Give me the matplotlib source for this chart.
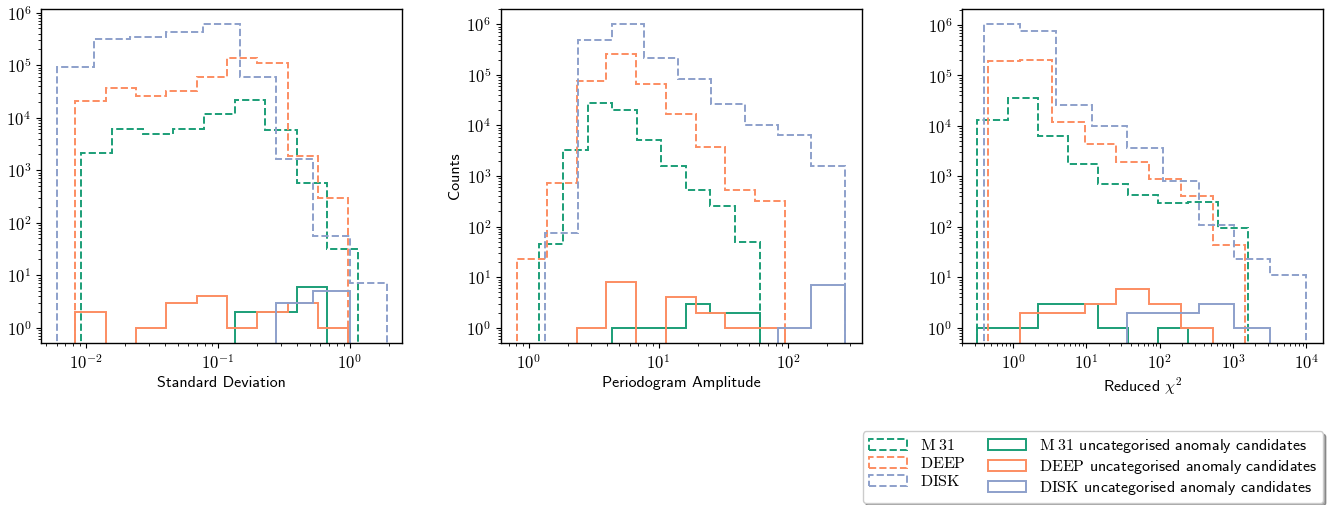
import numpy as np
import matplotlib
matplotlib.use('Agg')
import matplotlib.pyplot as plt
from matplotlib.ticker import FuncFormatter, NullFormatter

plt.rcParams['mathtext.fontset'] = 'cm'
plt.rcParams['font.family'] = 'cmss10'
plt.rcParams['axes.formatter.use_mathtext'] = True

m31_col = '#1b9e77'
deep_col = '#fc8d62'
disk_col = '#8da0cb'

# Standard deviation panel
std_m31_edges = [0.00922, 0.01576, 0.02709, 0.04579, 0.0783, 0.1346, 0.2301, 0.3958, 0.6689, 1.157]
std_m31_counts = [2100, 6000, 4800, 6200, 11500, 22000, 5800, 565, 32]
std_m31_anom = [0, 0, 0, 0, 0, 2, 2, 6, 0]
std_deep_edges = [0.0083, 0.01427, 0.02412, 0.04074, 0.06966, 0.1177, 0.1989, 0.3401, 0.5746, 0.9712]
std_deep_counts = [21000, 36000, 26000, 32000, 59000, 137000, 110000, 1860, 297]
std_deep_anom = [2, 0, 1, 3, 4, 1, 2, 3, 1]
std_disk_edges = [0.00609, 0.01157, 0.02172, 0.04074, 0.07735, 0.1487, 0.279, 0.5298, 1.006, 1.91]
std_disk_counts = [91000, 320000, 340000, 420000, 620000, 60000, 1660, 55, 7]
std_disk_anom = [0, 0, 0, 0, 0, 0, 3, 5, 0]

# Periodogram amplitude panel
amp_m31_edges = [1.193, 1.835, 2.84, 4.393, 6.798, 10.45, 16.27, 25.01, 38.93, 60.57]
amp_m31_counts = [46, 3200, 28000, 20000, 5200, 1600, 540, 255, 49]
amp_m31_anom = [0, 0, 0, 1, 1, 1, 3, 2, 2]
amp_deep_edges = [0.8135, 1.383, 2.351, 3.951, 6.716, 11.42, 19.41, 32.62, 55.44, 94.28]
amp_deep_counts = [23, 720, 75000, 260000, 65000, 16600, 3700, 540, 320]
amp_deep_anom = [0, 0, 1, 8, 0, 4, 2, 1, 1]
amp_disk_edges = [1.327, 2.379, 4.368, 7.784, 14.04, 25.62, 46.47, 83.8, 151.1, 272.5]
amp_disk_counts = [74, 500000, 1000000, 220000, 84000, 26000, 10000, 6500, 1560]
amp_disk_anom = [0, 0, 0, 0, 0, 0, 0, 1, 7]

# Reduced chi^2 panel
chi_m31_edges = [0.3229, 0.8547, 2.147, 5.623, 14.43, 37.0, 94.91, 243.4, 624.4, 1601]
chi_m31_counts = [13000, 35000, 6400, 1750, 690, 430, 300, 315, 94]
chi_m31_anom = [1, 1, 3, 3, 1, 0, 1, 0, 0]
chi_deep_edges = [0.4467, 1.233, 3.403, 9.49, 25.66, 71.54, 195.4, 533.8, 1473]
chi_deep_counts = [190000, 200000, 12000, 4300, 1900, 870, 400, 44]
chi_deep_anom = [0, 2, 2, 3, 6, 3, 1, 0]
chi_disk_edges = [0.398, 1.233, 3.818, 11.82, 35.85, 111.0, 343.9, 1043, 3229, 10000]
chi_disk_counts = [1050000, 740000, 26000, 10000, 3700, 810, 110, 23, 11]
chi_disk_anom = [0, 0, 0, 0, 2, 2, 3, 1, 0]

panels = [
    ('Standard Deviation', (0.00458, 2.48), (0.51, 1.17e6),
     [(std_m31_edges, std_m31_counts, std_m31_anom, m31_col),
      (std_deep_edges, std_deep_counts, std_deep_anom, deep_col),
      (std_disk_edges, std_disk_counts, std_disk_anom, disk_col)]),
    ('Periodogram Amplitude', (0.609, 368), (0.5, 2e6),
     [(amp_m31_edges, amp_m31_counts, amp_m31_anom, m31_col),
      (amp_deep_edges, amp_deep_counts, amp_deep_anom, deep_col),
      (amp_disk_edges, amp_disk_counts, amp_disk_anom, disk_col)]),
    (r'Reduced $\chi^2$', (0.2, 16700), (0.5, 2.05e6),
     [(chi_m31_edges, chi_m31_counts, chi_m31_anom, m31_col),
      (chi_deep_edges, chi_deep_counts, chi_deep_anom, deep_col),
      (chi_disk_edges, chi_disk_counts, chi_disk_anom, disk_col)]),
]

fig = plt.figure(figsize=(13.33, 5.05), dpi=100)
lefts = [0.0308, 0.3758, 0.7217]
fmt = FuncFormatter(lambda v, p: r'$\mathrm{10^{%d}}$' % round(np.log10(v)))

dashed_handles = []
solid_handles = []
for i, (xlabel, xl, yl, series) in enumerate(panels):
    ax = fig.add_axes([lefts[i], 0.3208, 0.2705, 0.6612])
    for edges, counts, anom, col in series:
        _, _, p1 = ax.hist(edges[:-1], bins=edges, weights=counts, histtype='step',
                           ls='--', lw=1.4, color=col)
        _, _, p2 = ax.hist(edges[:-1], bins=edges, weights=anom, histtype='step',
                           ls='-', lw=1.4, color=col)
        if i == 0:
            dashed_handles.append(p1[0])
            solid_handles.append(p2[0])
    ax.set_xscale('log')
    ax.set_yscale('log')
    ax.set_xlim(*xl)
    ax.set_ylim(*yl)
    ax.xaxis.set_major_formatter(fmt)
    ax.yaxis.set_major_formatter(fmt)
    ax.xaxis.set_minor_formatter(NullFormatter())
    ax.yaxis.set_minor_formatter(NullFormatter())
    ax.tick_params(labelsize=12)
    for s in ax.spines.values():
        s.set_linewidth(1.0)
    ax.set_xlabel(xlabel, fontsize=11.5, labelpad=3)
    if i == 1:
        ax.set_ylabel('Counts', fontsize=11.5, labelpad=3)

labels = [r'$\mathrm{M\;31}$', r'$\mathrm{DEEP}$', r'$\mathrm{DISK}$',
          r'$\mathrm{M\;31}$ uncategorised anomaly candidates',
          r'$\mathrm{DEEP}$ uncategorised anomaly candidates',
          r'$\mathrm{DISK}$ uncategorised anomaly candidates']
fig.legend(dashed_handles + solid_handles, labels, ncol=2, loc='lower right',
           bbox_to_anchor=(0.9925, 0.004), borderaxespad=0, shadow=True,
           fontsize=11.5, handlelength=2.4, labelspacing=0.2, borderpad=0.35,
           columnspacing=1.4)

fig.savefig('out.png', dpi=100)
